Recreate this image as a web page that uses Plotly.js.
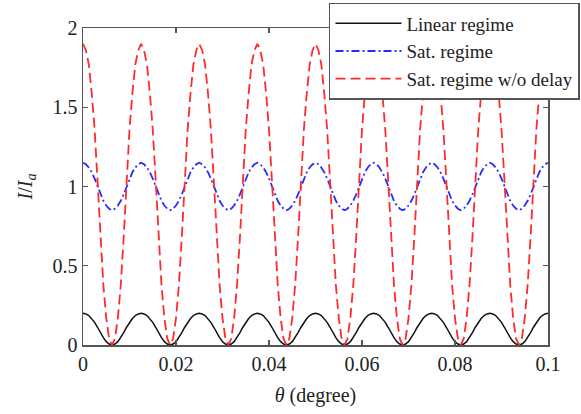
<!DOCTYPE html>
<html>
<head>
<meta charset="utf-8">
<script src="https://cdn.plot.ly/plotly-3.0.1.min.js"></script>
<style>html,body{margin:0;padding:0;background:#fff;}#chart{width:581px;height:414px;}</style>
</head>
<body>
<div id="chart"></div>
<script>
// theta (degree) sample positions
const theta = [
0,0.000625,0.00125,0.001875,0.0025,0.003125,0.00375,0.004375,0.005,0.005625,0.00625,0.006875,0.0075,0.008125,0.00875,0.009375,0.01,0.010625,0.01125,0.011875,
0.0125,0.013125,0.01375,0.014375,0.015,0.015625,0.01625,0.016875,0.0175,0.018125,0.01875,0.019375,0.02,0.020625,0.02125,0.021875,0.0225,0.023125,0.02375,0.024375,
0.025,0.025625,0.02625,0.026875,0.0275,0.028125,0.02875,0.029375,0.03,0.030625,0.03125,0.031875,0.0325,0.033125,0.03375,0.034375,0.035,0.035625,0.03625,0.036875,
0.0375,0.038125,0.03875,0.039375,0.04,0.040625,0.04125,0.041875,0.0425,0.043125,0.04375,0.044375,0.045,0.045625,0.04625,0.046875,0.0475,0.048125,0.04875,0.049375,
0.05,0.050625,0.05125,0.051875,0.0525,0.053125,0.05375,0.054375,0.055,0.055625,0.05625,0.056875,0.0575,0.058125,0.05875,0.059375,0.06,0.060625,0.06125,0.061875,
0.0625,0.063125,0.06375,0.064375,0.065,0.065625,0.06625,0.066875,0.0675,0.068125,0.06875,0.069375,0.07,0.070625,0.07125,0.071875,0.0725,0.073125,0.07375,0.074375,
0.075,0.075625,0.07625,0.076875,0.0775,0.078125,0.07875,0.079375,0.08,0.080625,0.08125,0.081875,0.0825,0.083125,0.08375,0.084375,0.085,0.085625,0.08625,0.086875,
0.0875,0.088125,0.08875,0.089375,0.09,0.090625,0.09125,0.091875,0.0925,0.093125,0.09375,0.094375,0.095,0.095625,0.09625,0.096875,0.0975,0.098125,0.09875,0.099375,
0.1];

// Linear regime
const linearRegime = [
0.200,0.196,0.186,0.167,0.143,0.112,0.078,0.046,0.021,0.006,0.000,0.006,0.021,0.046,0.078,0.112,0.143,0.167,0.186,0.196,
0.200,0.196,0.186,0.167,0.143,0.112,0.078,0.046,0.021,0.006,0.000,0.006,0.021,0.046,0.078,0.112,0.143,0.167,0.186,0.196,
0.200,0.196,0.186,0.167,0.143,0.112,0.078,0.046,0.021,0.006,0.000,0.006,0.021,0.046,0.078,0.112,0.143,0.167,0.186,0.196,
0.200,0.196,0.186,0.167,0.143,0.112,0.078,0.046,0.021,0.006,0.000,0.006,0.021,0.046,0.078,0.112,0.143,0.167,0.186,0.196,
0.200,0.196,0.186,0.167,0.143,0.112,0.078,0.046,0.021,0.006,0.000,0.006,0.021,0.046,0.078,0.112,0.143,0.167,0.186,0.196,
0.200,0.196,0.186,0.167,0.143,0.112,0.078,0.046,0.021,0.006,0.000,0.006,0.021,0.046,0.078,0.112,0.143,0.167,0.186,0.196,
0.200,0.196,0.186,0.167,0.143,0.112,0.078,0.046,0.021,0.006,0.000,0.006,0.021,0.046,0.078,0.112,0.143,0.167,0.186,0.196,
0.200,0.196,0.186,0.167,0.143,0.112,0.078,0.046,0.021,0.006,0.000,0.006,0.021,0.046,0.078,0.112,0.143,0.167,0.186,0.196,
0.200];

// Sat. regime
const satRegime = [
1.15,1.14,1.12,1.09,1.05,1.00,0.95,0.91,0.88,0.86,0.85,0.86,0.88,0.91,0.95,1.00,1.05,1.09,1.12,1.14,
1.15,1.14,1.12,1.09,1.05,1.00,0.95,0.91,0.88,0.86,0.85,0.86,0.88,0.91,0.95,1.00,1.05,1.09,1.12,1.14,
1.15,1.14,1.12,1.09,1.05,1.00,0.95,0.91,0.88,0.86,0.85,0.86,0.88,0.91,0.95,1.00,1.05,1.09,1.12,1.14,
1.15,1.14,1.12,1.09,1.05,1.00,0.95,0.91,0.88,0.86,0.85,0.86,0.88,0.91,0.95,1.00,1.05,1.09,1.12,1.14,
1.15,1.14,1.12,1.09,1.05,1.00,0.95,0.91,0.88,0.86,0.85,0.86,0.88,0.91,0.95,1.00,1.05,1.09,1.12,1.14,
1.15,1.14,1.12,1.09,1.05,1.00,0.95,0.91,0.88,0.86,0.85,0.86,0.88,0.91,0.95,1.00,1.05,1.09,1.12,1.14,
1.15,1.14,1.12,1.09,1.05,1.00,0.95,0.91,0.88,0.86,0.85,0.86,0.88,0.91,0.95,1.00,1.05,1.09,1.12,1.14,
1.15,1.14,1.12,1.09,1.05,1.00,0.95,0.91,0.88,0.86,0.85,0.86,0.88,0.91,0.95,1.00,1.05,1.09,1.12,1.14,
1.15];

// Sat. regime w/o delay
const satNoDelay = [
1.90,1.86,1.77,1.59,1.36,1.04,0.68,0.38,0.17,0.04,0.00,0.04,0.17,0.38,0.68,1.04,1.36,1.59,1.77,1.86,
1.90,1.86,1.77,1.59,1.36,1.04,0.68,0.38,0.17,0.04,0.00,0.04,0.17,0.38,0.68,1.04,1.36,1.59,1.77,1.86,
1.90,1.86,1.77,1.59,1.36,1.04,0.68,0.38,0.17,0.04,0.00,0.04,0.17,0.38,0.68,1.04,1.36,1.59,1.77,1.86,
1.90,1.86,1.77,1.59,1.36,1.04,0.68,0.38,0.17,0.04,0.00,0.04,0.17,0.38,0.68,1.04,1.36,1.59,1.77,1.86,
1.90,1.86,1.77,1.59,1.36,1.04,0.68,0.38,0.17,0.04,0.00,0.04,0.17,0.38,0.68,1.04,1.36,1.59,1.77,1.86,
1.90,1.86,1.77,1.59,1.36,1.04,0.68,0.38,0.17,0.04,0.00,0.04,0.17,0.38,0.68,1.04,1.36,1.59,1.77,1.86,
1.90,1.86,1.77,1.59,1.36,1.04,0.68,0.38,0.17,0.04,0.00,0.04,0.17,0.38,0.68,1.04,1.36,1.59,1.77,1.86,
1.90,1.86,1.77,1.59,1.36,1.04,0.68,0.38,0.17,0.04,0.00,0.04,0.17,0.38,0.68,1.04,1.36,1.59,1.77,1.86,
1.90];

const seriesNames = ['Linear regime', 'Sat. regime', 'Sat. regime w/o delay'];
const xTickVals = [0, 0.02, 0.04, 0.06, 0.08, 0.1];
const xTickText = ['0', '0.02', '0.04', '0.06', '0.08', '0.1'];
const yTickVals = [0, 0.5, 1, 1.5, 2];
const yTickText = ['0', '0.5', '1', '1.5', '2'];

const serif = 'Liberation Serif, Times New Roman, serif';
const axisCol = '#555555';
const textCol = '#222222';

const traces = [
  {x: theta, y: linearRegime, name: seriesNames[0], type: 'scatter', mode: 'lines',
   line: {color: '#111111', width: 1.5}},
  {x: theta, y: satRegime, name: seriesNames[1], type: 'scatter', mode: 'lines',
   line: {color: '#2a2aff', width: 1.8, dash: '8px,3px,2px,3px'}},
  {x: theta, y: satNoDelay, name: seriesNames[2], type: 'scatter', mode: 'lines',
   line: {color: '#ff2a2a', width: 1.8, dash: '10px,5px'}}
];

const axisCommon = {
  ticks: 'inside', ticklen: 5, tickwidth: 1.2, tickcolor: axisCol,
  mirror: 'ticks', showline: true, linecolor: axisCol, linewidth: 1.5,
  showgrid: false, zeroline: false,
  tickfont: {family: serif, size: 20, color: textCol}
};

const layout = {
  width: 581, height: 414,
  margin: {l: 83, r: 33, t: 28, b: 69, autoexpand: false},
  paper_bgcolor: '#ffffff', plot_bgcolor: '#ffffff',
  font: {family: serif, size: 20, color: textCol},
  xaxis: Object.assign({}, axisCommon, {
    range: [0, 0.1], tickmode: 'array', tickvals: xTickVals, ticktext: xTickText,
    title: {text: '<i>θ</i> (degree)', font: {family: serif, size: 20, color: textCol}, standoff: 14}
  }),
  yaxis: Object.assign({}, axisCommon, {
    range: [0, 2], tickmode: 'array', tickvals: yTickVals, ticktext: yTickText,
    title: {text: '<i>I</i>/<i>I</i><sub><i>a</i></sub>', font: {family: serif, size: 20, color: textCol}, standoff: 14}
  }),
  showlegend: true,
  legend: {
    x: 0.529, y: 1.079, xanchor: 'left', yanchor: 'top',
    bgcolor: '#ffffff', bordercolor: axisCol, borderwidth: 1.5,
    font: {family: serif, size: 19, color: textCol},
    itemwidth: 66, traceorder: 'normal', tracegroupgap: 0
  }
};

Plotly.newPlot('chart', traces, layout, {displayModeBar: false, staticPlot: true});
</script>
</body>
</html>
